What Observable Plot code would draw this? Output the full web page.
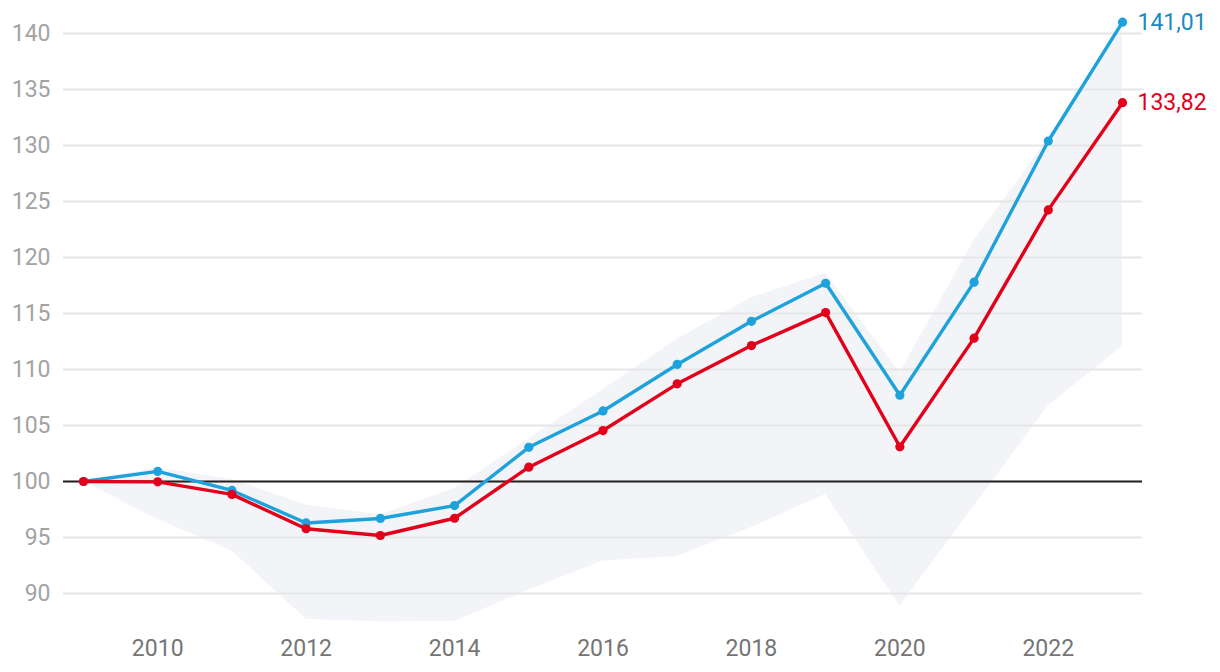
<!DOCTYPE html>
<html>
<head>
<meta charset="utf-8">
<script src="https://cdn.jsdelivr.net/npm/d3@7"></script>
<script src="https://cdn.jsdelivr.net/npm/@observablehq/plot@0.6"></script>
<style>
  html, body { margin: 0; padding: 0; background: #fff; }
  #chart { width: 1220px; height: 672px; }
</style>
</head>
<body>
<div id="chart"></div>
<script>
const years = [2009, 2010, 2011, 2012, 2013, 2014, 2015, 2016, 2017, 2018, 2019, 2020, 2021, 2022, 2023];
const blueSeries = [100, 100.9, 99.2, 96.3, 96.7, 97.85, 103.05, 106.3, 110.45, 114.3, 117.7, 107.7, 117.8, 130.4, 141.01];
const redSeries = [100, 99.97, 98.85, 95.78, 95.18, 96.72, 101.28, 104.55, 108.72, 112.14, 115.08, 103.1, 112.8, 124.25, 133.82];
const bandHigh = [100, 101.2, 100.2, 97.9, 97.0, 99.4, 103.8, 108.2, 112.7, 116.4, 118.6, 109.7, 121.5, 130.6, 141.01];
const bandLow = [100, 96.6, 93.8, 87.7, 87.45, 87.5, 90.3, 92.9, 93.3, 95.9, 98.85, 88.85, 97.8, 106.75, 112.05];
const yTicks = [90, 95, 100, 105, 110, 115, 120, 125, 130, 135, 140];
const xTicks = [2010, 2012, 2014, 2016, 2018, 2020, 2022];
const baseline = [100];

const BLUE = "#1ea2dc";
const RED = "#e2001a";

const band = years.map((year, i) => ({year, low: bandLow[i], high: bandHigh[i]}));
const blueData = years.map((year, i) => ({year, value: blueSeries[i]}));
const redData = years.map((year, i) => ({year, value: redSeries[i]}));
const fmt = v => v.toFixed(2).replace(".", ",");
const last = years.length - 1;
const endLabels = [
  {year: years[last], value: blueSeries[last], text: fmt(blueSeries[last]), color: "#1a8ac4"},
  {year: years[last], value: redSeries[last], text: fmt(redSeries[last]), color: RED}
];

const chart = Plot.plot({
  width: 1220,
  height: 672,
  marginLeft: 63,
  marginRight: 78,
  marginTop: 0,
  marginBottom: 42,
  style: {fontFamily: "Roboto, 'Noto Sans', sans-serif", fontSize: "23px", background: "#fff"},
  x: {domain: [2009, 2023], insetLeft: 20, insetRight: 20},
  y: {domain: [90 - 37 / 11.2, 140 + 33 / 11.2]},
  marks: [
    Plot.areaY(band, {x: "year", y1: "low", y2: "high", fill: "#f3f4f8"}),
    Plot.ruleY(yTicks, {stroke: "#e6e6e6", strokeWidth: 2}),
    Plot.ruleY(baseline, {stroke: "#222", strokeWidth: 2}),
    Plot.axisY({ticks: yTicks, tickSize: 0, tickPadding: 13, fill: "#a3a3a3", fontSize: 23, label: null}),
    Plot.axisX({ticks: xTicks, tickSize: 0, tickPadding: 9, tickFormat: d => String(d), fill: "#757575", fontSize: 23, label: null}),
    Plot.line(blueData, {x: "year", y: "value", stroke: BLUE, strokeWidth: 3.4}),
    Plot.line(redData, {x: "year", y: "value", stroke: RED, strokeWidth: 3.4}),
    Plot.dot(blueData, {x: "year", y: "value", fill: BLUE, r: 4.6}),
    Plot.dot(redData, {x: "year", y: "value", fill: RED, r: 4.6}),
    Plot.text(endLabels, {x: "year", y: "value", text: "text", fill: "color", textAnchor: "start", dx: 15, fontSize: 23})
  ]
});
document.getElementById("chart").appendChild(chart);
</script>
</body>
</html>
